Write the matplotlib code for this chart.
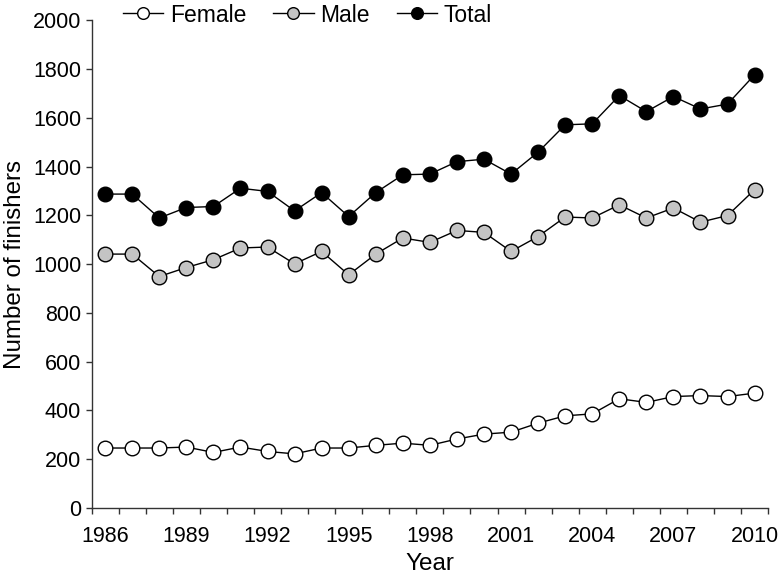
import matplotlib
matplotlib.use("Agg")
import matplotlib.pyplot as plt
import numpy as np

# finishers per year
years = list(range(1986, 2011))
female = [246, 246, 246, 250, 228, 250, 232, 222, 246, 246, 257, 266, 257,
          283, 303, 311, 348, 378, 386, 448, 433, 457, 461, 457, 471]
male = [1041, 1041, 949, 986, 1018, 1066, 1070, 1001, 1052, 956, 1041, 1107, 1089,
        1138, 1130, 1052, 1113, 1193, 1189, 1243, 1189, 1230, 1172, 1199, 1305]
total = [1287, 1287, 1189, 1232, 1236, 1311, 1298, 1218, 1293, 1195, 1293, 1366, 1369,
         1420, 1430, 1369, 1459, 1571, 1575, 1691, 1625, 1687, 1636, 1656, 1776]
label_years = years[::3]

plt.rcParams['font.family'] = ['Liberation Sans', 'DejaVu Sans']

fig = plt.figure(figsize=(7.83, 5.76), dpi=100)
ax = fig.add_axes([0.117, 0.118, 0.864, 0.847])

x = np.arange(len(years))
style = dict(color='black', lw=1, marker='o', markersize=10.5,
             markeredgecolor='black', markeredgewidth=1)
ax.plot(x, female, markerfacecolor='white', label='Female', **style)
ax.plot(x, male, markerfacecolor='#c4c4c4', label='Male', **style)
ax.plot(x, total, markerfacecolor='black', label='Total', **style)

ax.set_xlim(-0.5, len(years) - 0.5)
ax.set_ylim(0, 2000)
ax.set_yticks(np.arange(0, 2001, 200))
ax.set_xticks(x[::3])
ax.set_xticklabels([str(y) for y in label_years])
ax.set_xticks(np.arange(-0.5, len(years), 1), minor=True)

ax.tick_params(axis='x', which='major', length=0, pad=13, labelsize=15.5)
ax.tick_params(axis='x', which='minor', length=4, width=1, color='#333333')
ax.tick_params(axis='y', length=4.5, width=1, pad=3, labelsize=15.5, color='#333333')

for s in ['top', 'right']:
    ax.spines[s].set_visible(False)
for s in ['left', 'bottom']:
    ax.spines[s].set_color('#333333')
    ax.spines[s].set_linewidth(1)

ax.set_xlabel('Year', fontsize=17.5, labelpad=4)
ax.set_ylabel('Number of finishers', fontsize=17.4, labelpad=5)

fig.legend(ncol=3, frameon=False, loc='center left', fontsize=16.5,
           bbox_to_anchor=(123 / 783, 1 - 15 / 576), handlelength=1.75,
           handletextpad=0.3, columnspacing=1.18, markerscale=0.8,
           borderaxespad=0, borderpad=0)

fig.savefig('out.png', dpi=100)
